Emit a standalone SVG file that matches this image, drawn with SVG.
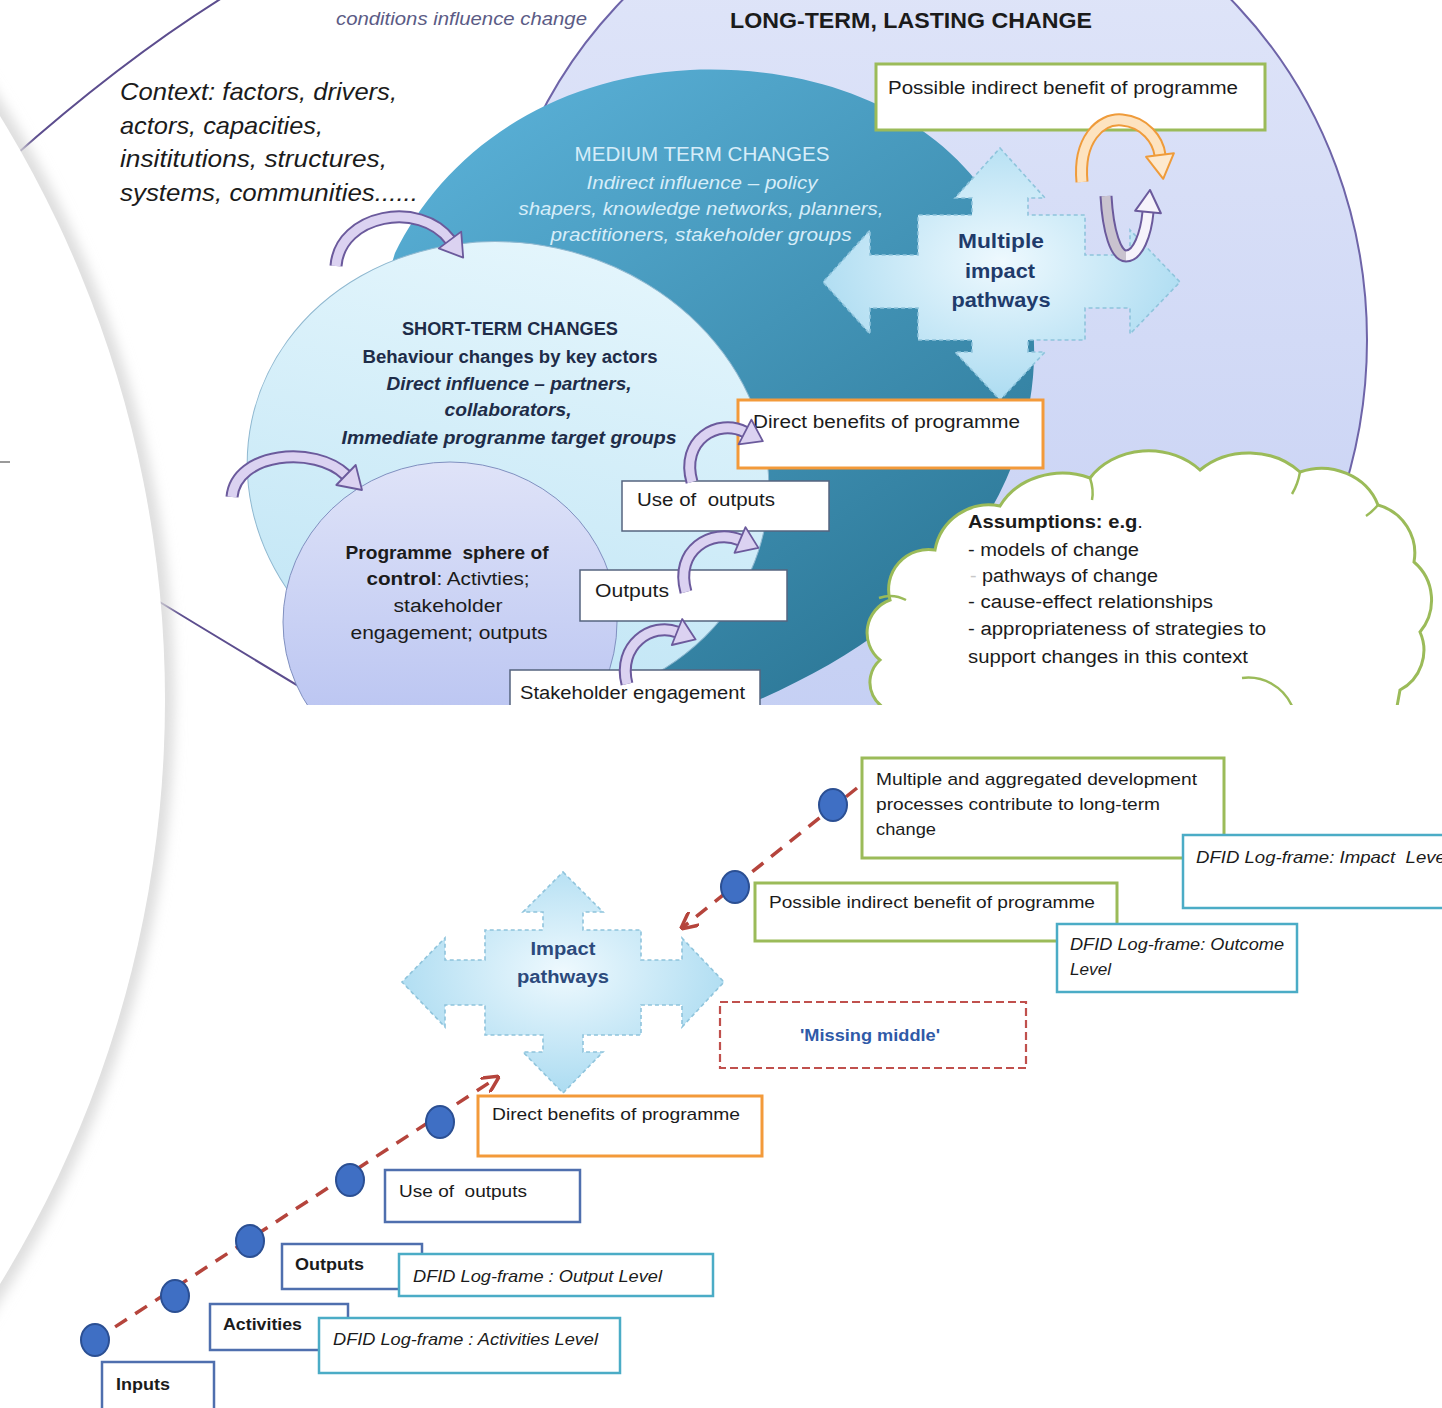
<svg xmlns="http://www.w3.org/2000/svg" width="1442" height="1408" viewBox="0 0 1442 1408">
<defs>
<style>
text{font-family:"Liberation Sans",Arial,sans-serif;fill:#1b1b1b;font-size:18px}
.b{font-weight:bold}
.i{font-style:italic}
.pre{white-space:pre}
.box{fill:#fff}
.green{stroke:#9bbb59;stroke-width:3}
.orange{stroke:#f39a3a;stroke-width:3}
.navy{stroke:#4f6fae;stroke-width:2.5}
.teal{stroke:#4bacc6;stroke-width:2.5}
.plain{stroke:#55647f;stroke-width:1.5}
.qa{stroke:#8fc4dc;stroke-width:1.6;stroke-dasharray:4 3}
.arcO{fill:none;stroke:#6b5a9c;stroke-width:13}
.arcI{fill:none;stroke:#dbd2f1;stroke-width:9}
.head{fill:#dbd2f1;stroke:#6b5a9c;stroke-width:1.8;stroke-linejoin:round}
.dash{fill:none;stroke:#b5443c;stroke-width:3.5;stroke-dasharray:14 10}
.dot{fill:#3f6fc4;stroke:#2b4f93;stroke-width:2}
.med{fill:#d6edf9}
.st{fill:#1e2c48}
.qt{fill:#1f3b6b}
.cl{fill:none;stroke:#9bbb59;stroke-width:2.5}
</style>
<linearGradient id="gLong" x1="0" y1="0" x2="0" y2="1"><stop offset="0" stop-color="#e2e7f9"/><stop offset="1" stop-color="#c2cdf3"/></linearGradient>
<linearGradient id="gMed" x1="0.1" y1="0" x2="0.8" y2="1"><stop offset="0" stop-color="#5cb3da"/><stop offset="1" stop-color="#2a7594"/></linearGradient>
<linearGradient id="gShort" x1="0" y1="0" x2="0" y2="1"><stop offset="0" stop-color="#e3f5fc"/><stop offset="1" stop-color="#c0e5f5"/></linearGradient>
<linearGradient id="gProg" x1="0" y1="0" x2="0" y2="1"><stop offset="0" stop-color="#dfe3f8"/><stop offset="1" stop-color="#b2bef0"/></linearGradient>
<radialGradient id="gQuad" cx="0.5" cy="0.45" r="0.6"><stop offset="0" stop-color="#eef9fe"/><stop offset="1" stop-color="#a6d9f0"/></radialGradient>
<filter id="blur" x="-5%" y="-5%" width="110%" height="110%"><feGaussianBlur stdDeviation="7"/></filter>
<clipPath id="clipTop"><rect x="0" y="0" width="1442" height="705"/></clipPath>
<marker id="ah" viewBox="0 0 10 10" refX="9" refY="5" markerWidth="5" markerHeight="5" orient="auto" markerUnits="strokeWidth"><path d="M0,0 L10,5 L0,10" fill="none" stroke="#b5443c" stroke-width="2"/></marker>
</defs>

<rect x="0" y="0" width="1442" height="1408" fill="#fff"/>

<g id="top-diagram" clip-path="url(#clipTop)">
  <g id="context-sphere">
    <path d="M222,-2 Q120,62 10,160" fill="none" stroke="#5c4d8e" stroke-width="2"/>
    <path d="M140,590 Q235,648 335,708" fill="none" stroke="#5c4d8e" stroke-width="2"/>
    <text class="i" x="336" y="25" textLength="251" lengthAdjust="spacingAndGlyphs" style="fill:#5b5b85;font-size:19px">conditions influence change</text>
    <text class="i" x="120" y="100" textLength="277" lengthAdjust="spacingAndGlyphs" style="font-size:24px">Context: factors, drivers,</text>
    <text class="i" x="120" y="134" textLength="203" lengthAdjust="spacingAndGlyphs" style="font-size:24px">actors, capacities,</text>
    <text class="i" x="120" y="167" textLength="267" lengthAdjust="spacingAndGlyphs" style="font-size:24px">insititutions, structures,</text>
    <text class="i" x="120" y="201" textLength="298" lengthAdjust="spacingAndGlyphs" style="font-size:24px">systems, communities......</text>
  </g>

  <g id="long-term">
    <ellipse cx="927" cy="340" rx="440" ry="471" fill="url(#gLong)" stroke="#6e64a8" stroke-width="2"/>
    <text class="b" x="730" y="28" textLength="362" lengthAdjust="spacingAndGlyphs" style="font-size:22px">LONG-TERM, LASTING CHANGE</text>
  </g>

  <g id="medium-term">
    <path d="M395,253 C440,160 540,78 690,70 C830,64 960,120 1012,240 C1050,330 1040,440 975,535 C925,610 840,668 730,712 L420,712 C370,560 360,360 395,253 Z" fill="url(#gMed)"/>
    <text class="med" x="702" y="161" text-anchor="middle" textLength="255" lengthAdjust="spacingAndGlyphs" style="font-size:19.5px">MEDIUM TERM CHANGES</text>
    <text class="med i" x="702" y="189" text-anchor="middle" textLength="231" lengthAdjust="spacingAndGlyphs">Indirect influence – policy</text>
    <text class="med i" x="701" y="215" text-anchor="middle" textLength="365" lengthAdjust="spacingAndGlyphs">shapers, knowledge networks, planners,</text>
    <text class="med i" x="701" y="241" text-anchor="middle" textLength="301" lengthAdjust="spacingAndGlyphs">practitioners, stakeholder groups</text>
  </g>

  <g id="short-term">
    <ellipse cx="508" cy="475" rx="262" ry="232" transform="rotate(12 508 475)" fill="url(#gShort)" stroke="#8fb8d0" stroke-width="1"/>
    <text class="st b" x="510" y="335" text-anchor="middle" textLength="216" lengthAdjust="spacingAndGlyphs">SHORT-TERM CHANGES</text>
    <text class="st b" x="510" y="363" text-anchor="middle" textLength="295" lengthAdjust="spacingAndGlyphs">Behaviour changes by key actors</text>
    <text class="st b i" x="509" y="390" text-anchor="middle" textLength="245" lengthAdjust="spacingAndGlyphs">Direct influence – partners,</text>
    <text class="st b i" x="508" y="416" text-anchor="middle" textLength="127" lengthAdjust="spacingAndGlyphs">collaborators,</text>
    <text class="st b i" x="509" y="444" text-anchor="middle" textLength="335" lengthAdjust="spacingAndGlyphs">Immediate progranme target groups</text>
  </g>

  <g id="programme-sphere">
    <ellipse cx="450" cy="622" rx="167" ry="160" fill="url(#gProg)" stroke="#8090c0" stroke-width="1"/>
    <text class="b pre" x="447" y="559" text-anchor="middle" textLength="203" lengthAdjust="spacingAndGlyphs">Programme  sphere of</text>
    <text x="448" y="585" text-anchor="middle" textLength="163" lengthAdjust="spacingAndGlyphs"><tspan class="b">control</tspan>: Activties;</text>
    <text x="448" y="612" text-anchor="middle" textLength="109" lengthAdjust="spacingAndGlyphs">stakeholder</text>
    <text x="449" y="639" text-anchor="middle" textLength="197" lengthAdjust="spacingAndGlyphs">engagement; outputs</text>
  </g>

  <g id="multiple-impact-pathways">
    <path class="qa" fill="url(#gQuad)" d="M1000,148 L1045,198 L1028,198 L1028,215 L1085,215 L1085,255 L1130,255 L1130,230 L1180,282 L1130,334 L1130,308 L1085,308 L1085,340 L1028,340 L1028,352 L1045,352 L1000,400 L955,352 L972,352 L972,340 L918,340 L918,308 L870,308 L870,334 L823,282 L870,230 L870,255 L918,255 L918,215 L972,215 L972,198 L955,198 Z"/>
    <text class="b qt" x="1001" y="248" text-anchor="middle" textLength="86" lengthAdjust="spacingAndGlyphs" style="font-size:20px">Multiple</text>
    <text class="b qt" x="1000" y="278" text-anchor="middle" textLength="70" lengthAdjust="spacingAndGlyphs" style="font-size:20px">impact</text>
    <text class="b qt" x="1001" y="307" text-anchor="middle" textLength="99" lengthAdjust="spacingAndGlyphs" style="font-size:20px">pathways</text>
  </g>

  <g id="top-indirect-benefit">
    <rect class="box green" x="876" y="64" width="389" height="66"/>
    <text x="888" y="94" textLength="350" lengthAdjust="spacingAndGlyphs">Possible indirect benefit of programme</text>
  </g>

  <g id="top-direct-benefits">
    <rect class="box orange" x="738" y="400" width="305" height="68"/>
    <text x="753" y="428" textLength="267" lengthAdjust="spacingAndGlyphs">Direct benefits of programme</text>
  </g>
  <g id="top-use-of-outputs">
    <rect class="box plain" x="622" y="481" width="207" height="50"/>
    <text class="pre" x="637" y="506" textLength="138" lengthAdjust="spacingAndGlyphs">Use of  outputs</text>
  </g>
  <g id="top-outputs">
    <rect class="box plain" x="580" y="570" width="207" height="51"/>
    <text x="595" y="597" textLength="74" lengthAdjust="spacingAndGlyphs">Outputs</text>
  </g>
  <g id="top-stakeholder-engagement">
    <rect class="box plain" x="510" y="670" width="250" height="50"/>
    <text x="520" y="699" textLength="225" lengthAdjust="spacingAndGlyphs">Stakeholder engagement</text>
  </g>

  <g id="assumptions-cloud">
    <path d="M905,712 A30 30 0 0 1 880,660 A35 35 0 0 1 890,600 A40 40 0 0 1 935,550 A55 55 0 0 1 1000,506 A70 60 0 0 1 1090,478 A70 60 0 0 1 1200,470 A70 60 0 0 1 1300,472 A60 55 0 0 1 1378,505 A50 50 0 0 1 1414,562 A50 50 0 0 1 1420,632 A45 45 0 0 1 1400,690 L1396,712 Z" fill="#fff" stroke="#9bbb59" stroke-width="3"/>
    <path class="cl" d="M1242,678 A48 48 0 0 1 1292,706"/>
    <path class="cl" d="M879,598 Q893,593 906,600"/>
    <path class="cl" d="M1090,478 Q1094,490 1092,500"/>
    <path class="cl" d="M1300,472 Q1298,484 1292,494"/>
    <path class="cl" d="M1378,505 Q1372,512 1366,516"/>
    <text x="968" y="528" textLength="175" lengthAdjust="spacingAndGlyphs"><tspan class="b">Assumptions: e.g</tspan>.</text>
    <text x="968" y="556" textLength="171" lengthAdjust="spacingAndGlyphs">- models of change</text>
    <text x="970" y="582" textLength="188" lengthAdjust="spacingAndGlyphs"><tspan style="fill:#c8c8c8">-</tspan> pathways of change</text>
    <text x="968" y="608" textLength="245" lengthAdjust="spacingAndGlyphs">- cause-effect relationships</text>
    <text x="968" y="635" textLength="298" lengthAdjust="spacingAndGlyphs">- appropriateness of strategies to</text>
    <text x="968" y="663" textLength="280" lengthAdjust="spacingAndGlyphs">support changes in this context</text>
  </g>

  <g id="top-connectors">
    <path class="arcO" d="M336,266 C340,214 420,200 450,240"/>
    <path class="arcI" d="M336,266 C340,214 420,200 450,240"/>
    <polygon class="head" points="438.8,248.4 461.2,231.6 463.2,257.6"/>

    <path class="arcO" d="M232,497 C236,452 315,445 346,475"/>
    <path class="arcI" d="M232,497 C236,452 315,445 346,475"/>
    <polygon class="head" points="336.3,485 355.7,465 362,490"/>

    <path class="arcO" d="M692,482 C680,440 718,418 745,432"/>
    <path class="arcI" d="M692,482 C680,440 718,418 745,432"/>
    <polygon class="head" points="738.6,444.4 751.4,419.6 762.8,441.2"/>

    <path class="arcO" d="M686,592 C674,550 712,528 740,540"/>
    <path class="arcI" d="M686,592 C674,550 712,528 740,540"/>
    <polygon class="head" points="734.5,552.9 745.5,527.1 758.4,547.9"/>

    <path class="arcO" d="M627,684 C617,645 652,622 677,632"/>
    <path class="arcI" d="M627,684 C617,645 652,622 677,632"/>
    <polygon class="head" points="671.8,645 682.2,619 695.6,639.4"/>

    <path d="M1082,182 C1078,140 1100,118 1122,120 C1145,122 1158,140 1160,155" fill="none" stroke="#ef9b3a" stroke-width="13"/>
    <path d="M1082,182 C1078,140 1100,118 1122,120 C1145,122 1158,140 1160,155" fill="none" stroke="#fde3c0" stroke-width="9"/>
    <polygon points="1146.1,156.8 1173.9,153.2 1163.2,178.8" fill="#fde9cf" stroke="#ef9b3a" stroke-width="2" stroke-linejoin="round"/>

    <path d="M1106,196 C1108,232 1116,256 1126,256" fill="none" stroke="#6b5a9c" stroke-width="13"/>
    <path d="M1106,196 C1108,232 1116,256 1126,256" fill="none" stroke="#c9c3cf" stroke-width="9"/>
    <path d="M1126,256 C1138,256 1146,234 1148,212" fill="none" stroke="#6b5a9c" stroke-width="13"/>
    <path d="M1126,256 C1138,256 1146,234 1148,212" fill="none" stroke="#f6f3fb" stroke-width="9"/>
    <polygon points="1135.1,210.8 1160.9,213.2 1150,190" fill="#f6f3fb" stroke="#6b5a9c" stroke-width="2" stroke-linejoin="round"/>
  </g>
</g>

<g id="bottom-diagram">
  <g id="impact-pathways">
    <path class="qa" fill="url(#gQuad)" d="M563,872 L603,912 L583,912 L583,930 L641,930 L641,960 L682,960 L682,938 L724,982 L682,1027 L682,1005 L641,1005 L641,1035 L583,1035 L583,1052 L603,1052 L563,1093 L523,1052 L543,1052 L543,1035 L485,1035 L485,1005 L445,1005 L445,1027 L402,982 L445,938 L445,960 L485,960 L485,930 L543,930 L543,912 L523,912 Z"/>
    <text class="b" x="563" y="955" text-anchor="middle" textLength="65" lengthAdjust="spacingAndGlyphs" style="fill:#2c4a7c">Impact</text>
    <text class="b" x="563" y="983" text-anchor="middle" textLength="92" lengthAdjust="spacingAndGlyphs" style="fill:#2c4a7c">pathways</text>
  </g>

  <g id="multiple-aggregated">
    <rect class="box green" x="862" y="758" width="362" height="100"/>
    <text x="876" y="785" textLength="321" lengthAdjust="spacingAndGlyphs" style="font-size:17px">Multiple and aggregated development</text>
    <text x="876" y="810" textLength="284" lengthAdjust="spacingAndGlyphs" style="font-size:17px">processes contribute to long-term</text>
    <text x="876" y="835" textLength="60" lengthAdjust="spacingAndGlyphs" style="font-size:17px">change</text>
  </g>
  <g id="dfid-impact">
    <rect class="box teal" x="1183" y="835" width="275" height="73"/>
    <text class="i pre" x="1196" y="863" textLength="254" lengthAdjust="spacingAndGlyphs" style="font-size:17px">DFID Log-frame: Impact  Level</text>
  </g>
  <g id="bottom-indirect-benefit">
    <rect class="box green" x="755" y="883" width="362" height="58"/>
    <text x="769" y="908" textLength="326" lengthAdjust="spacingAndGlyphs" style="font-size:17px">Possible indirect benefit of programme</text>
  </g>
  <g id="dfid-outcome">
    <rect class="box teal" x="1057" y="924" width="240" height="68"/>
    <text class="i" x="1070" y="950" textLength="214" lengthAdjust="spacingAndGlyphs" style="font-size:17px">DFID Log-frame: Outcome</text>
    <text class="i" x="1070" y="975" textLength="41" lengthAdjust="spacingAndGlyphs" style="font-size:17px">Level</text>
  </g>
  <g id="missing-middle">
    <rect x="720" y="1002" width="306" height="66" fill="#fff" stroke="#c0504d" stroke-width="2.2" stroke-dasharray="8 4"/>
    <text class="b" x="870" y="1041" text-anchor="middle" textLength="140" lengthAdjust="spacingAndGlyphs" style="font-size:16px;fill:#2f5aa8">'Missing middle'</text>
  </g>
  <g id="bottom-direct-benefits">
    <rect class="box orange" x="478" y="1096" width="284" height="60"/>
    <text x="492" y="1120" textLength="248" lengthAdjust="spacingAndGlyphs" style="font-size:17px">Direct benefits of programme</text>
  </g>
  <g id="bottom-use-of-outputs">
    <rect class="box navy" x="385" y="1170" width="195" height="52"/>
    <text class="pre" x="399" y="1197" textLength="128" lengthAdjust="spacingAndGlyphs" style="font-size:17px">Use of  outputs</text>
  </g>
  <g id="bottom-outputs">
    <rect class="box navy" x="282" y="1244" width="140" height="45"/>
    <text class="b" x="295" y="1270" textLength="69" lengthAdjust="spacingAndGlyphs" style="font-size:17px">Outputs</text>
  </g>
  <g id="dfid-output">
    <rect class="box teal" x="399" y="1254" width="314" height="42"/>
    <text class="i" x="413" y="1282" textLength="249" lengthAdjust="spacingAndGlyphs" style="font-size:17px">DFID Log-frame : Output Level</text>
  </g>
  <g id="bottom-activities">
    <rect class="box navy" x="210" y="1304" width="138" height="46"/>
    <text class="b" x="223" y="1330" textLength="79" lengthAdjust="spacingAndGlyphs" style="font-size:17px">Activities</text>
  </g>
  <g id="dfid-activities">
    <rect class="box teal" x="319" y="1318" width="301" height="55"/>
    <text class="i" x="333" y="1345" textLength="265" lengthAdjust="spacingAndGlyphs" style="font-size:17px">DFID Log-frame : Activities Level</text>
  </g>
  <g id="bottom-inputs">
    <rect class="box navy" x="102" y="1362" width="112" height="56"/>
    <text class="b" x="116" y="1390" textLength="54" lengthAdjust="spacingAndGlyphs" style="font-size:17px">Inputs</text>
  </g>

  <g id="bottom-connectors">
    <path class="dash" d="M95,1340 L498,1077" marker-end="url(#ah)"/>
    <path class="dash" d="M857,788 L682,928" marker-end="url(#ah)"/>
    <ellipse class="dot" cx="95" cy="1340" rx="14" ry="16"/>
    <ellipse class="dot" cx="175" cy="1296" rx="14" ry="16"/>
    <ellipse class="dot" cx="250" cy="1241" rx="14" ry="16"/>
    <ellipse class="dot" cx="350" cy="1180" rx="14" ry="16"/>
    <ellipse class="dot" cx="440" cy="1122" rx="14" ry="16"/>
    <ellipse class="dot" cx="735" cy="887" rx="14" ry="16"/>
    <ellipse class="dot" cx="833" cy="805" rx="14" ry="16"/>
  </g>
</g>

<g id="page-curl">
  <circle cx="-951" cy="700" r="1116" fill="none" stroke="#d8d8d8" stroke-width="16" filter="url(#blur)"/>
  <circle cx="-951" cy="700" r="1116" fill="#fff"/>
  <line x1="0" y1="462" x2="10" y2="462" stroke="#9a9a9a" stroke-width="2"/>
</g>
</svg>
